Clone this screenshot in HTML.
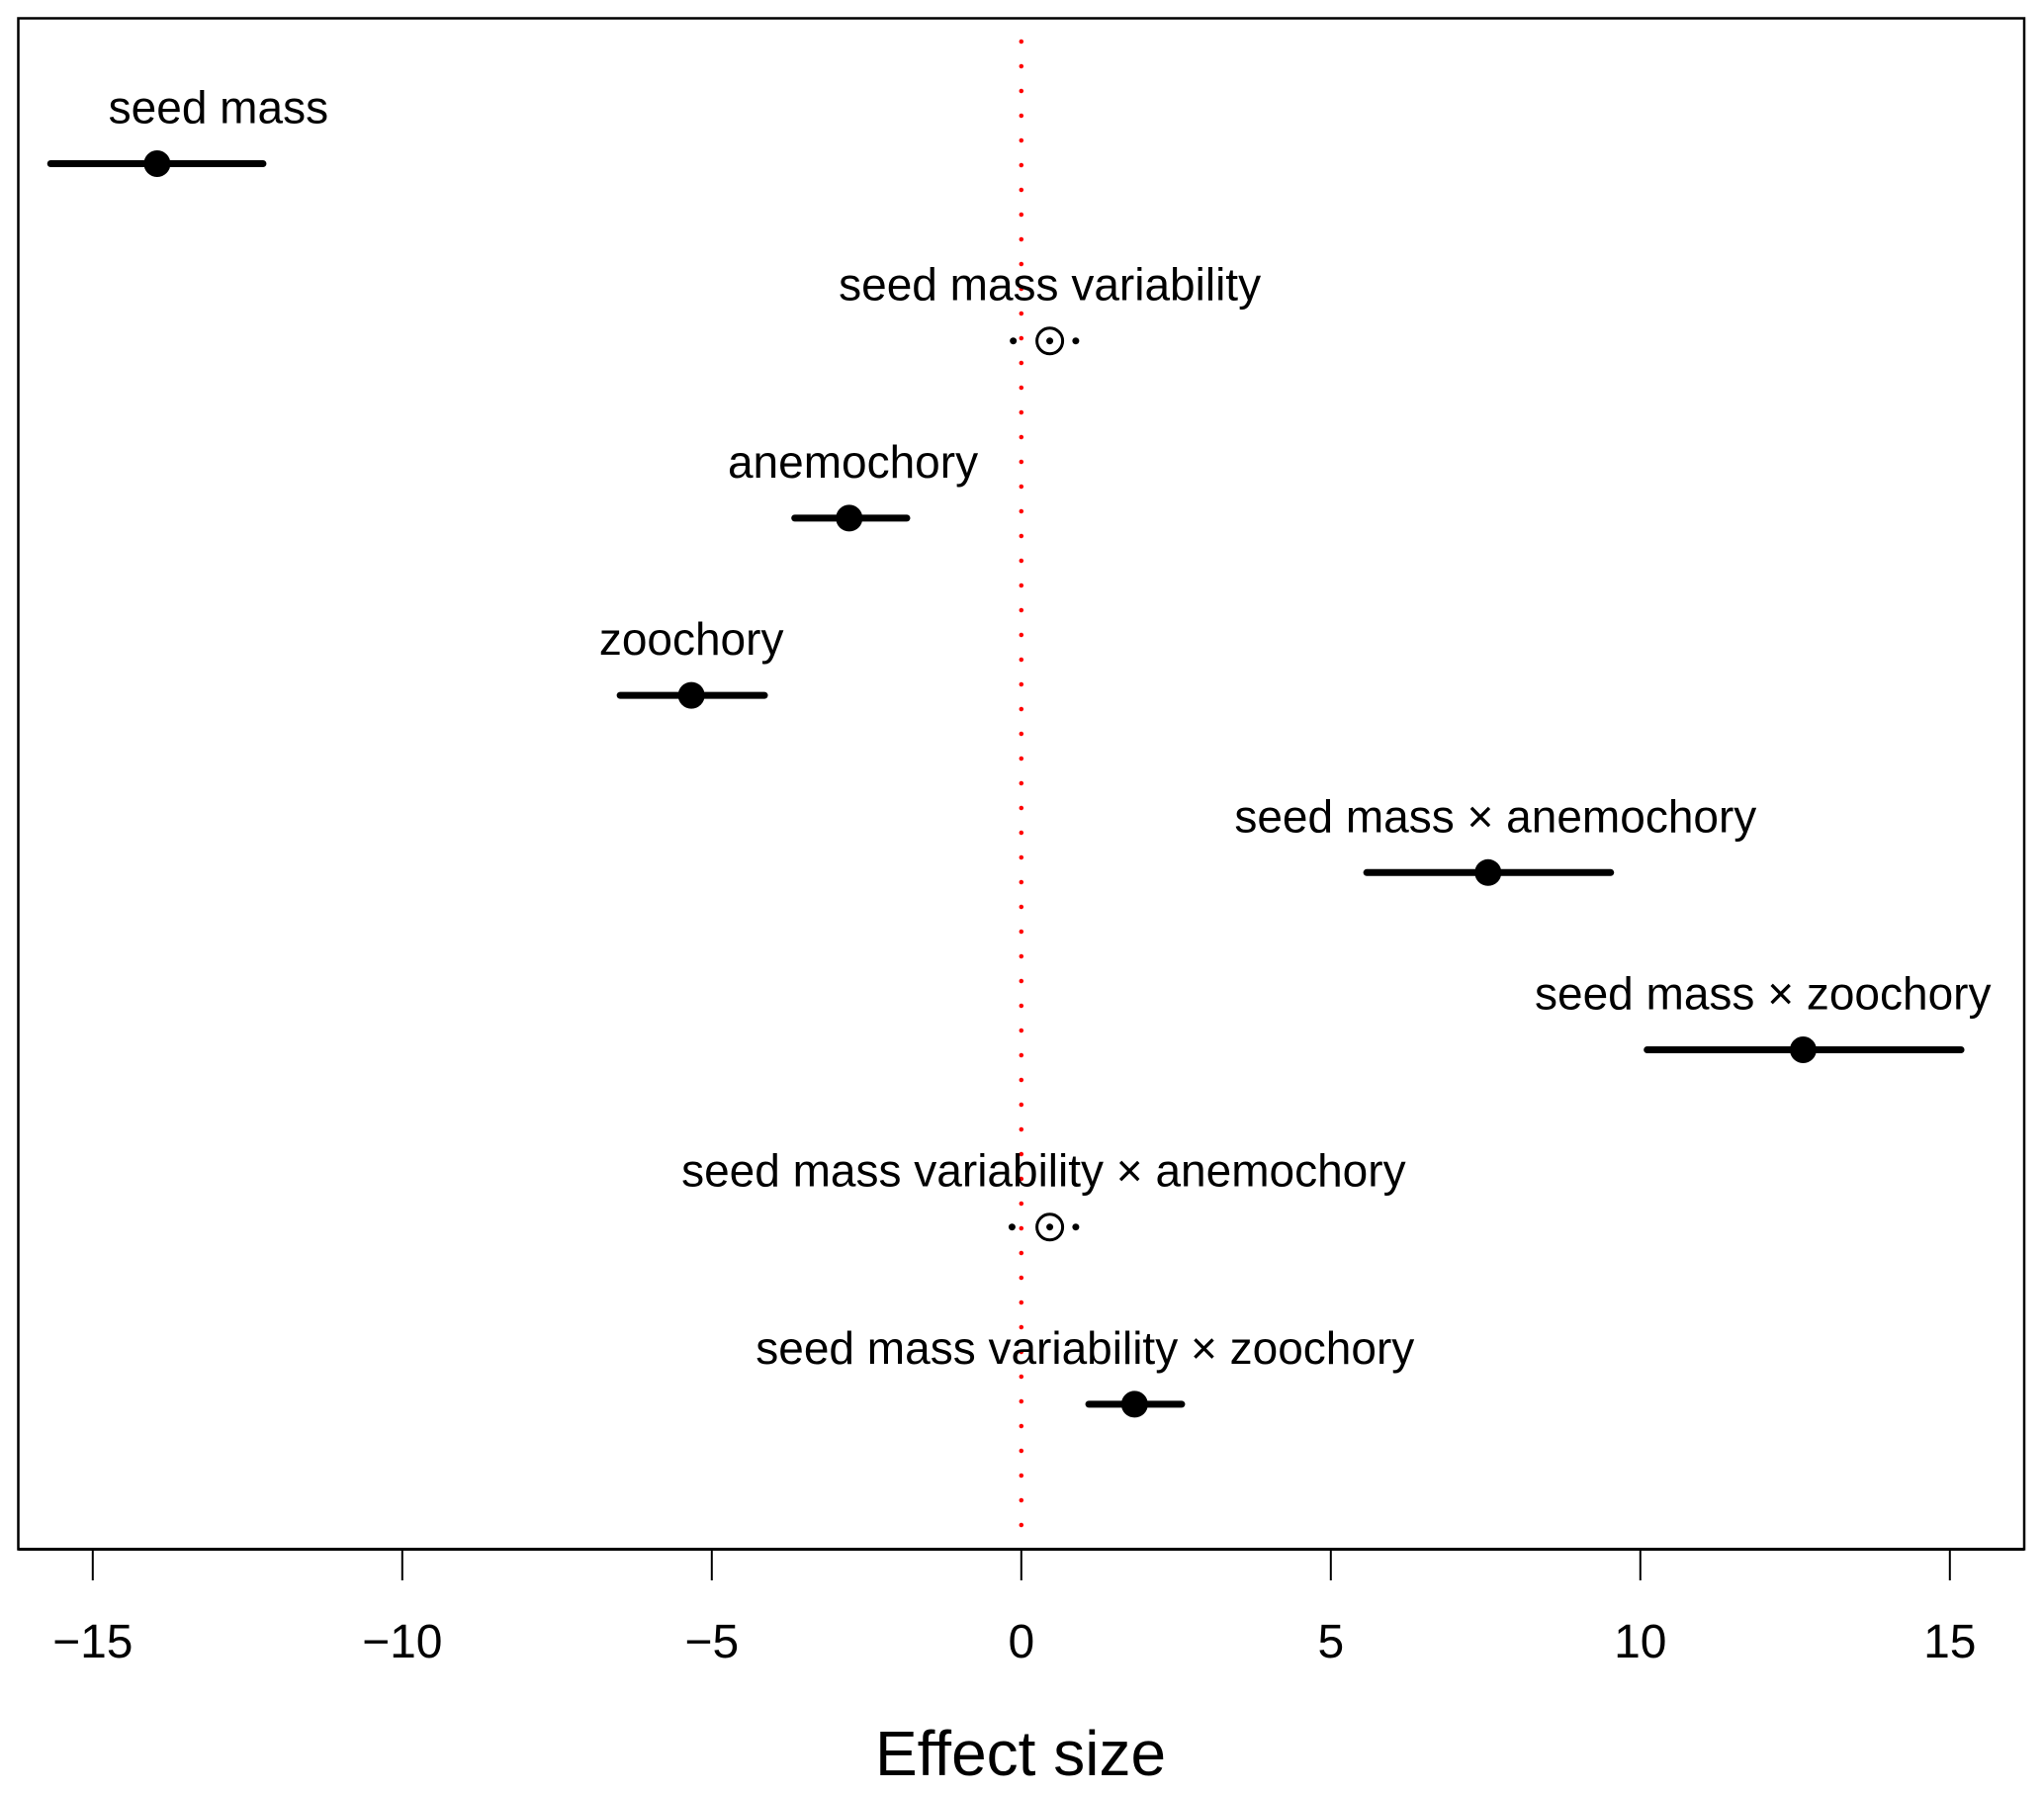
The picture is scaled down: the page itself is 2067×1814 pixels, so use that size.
<!DOCTYPE html>
<html><head><meta charset="utf-8"><style>
html,body{margin:0;padding:0;background:#fff}
svg{display:block}
text{font-family:"Liberation Sans",sans-serif;fill:#000}
</style></head><body>
<svg id="chart" width="2067" height="1814" viewBox="0 0 2067 1814" xmlns="http://www.w3.org/2000/svg">
<rect x="18.5" y="18.5" width="2028.5" height="1548" fill="none" stroke="#000" stroke-width="2.5"/>
<g id="axis"></g>
<line id="zero-line" stroke="#ff0000" stroke-width="4.5" stroke-linecap="round" stroke-dasharray="0 25"/>
<g id="marks"></g>
<text x="1032" y="1795" font-size="64" text-anchor="middle">Effect size</text>
</svg>
<script>
const labels = ["seed mass","seed mass variability","anemochory","zoochory","seed mass × anemochory","seed mass × zoochory","seed mass variability × anemochory","seed mass variability × zoochory"];
const estimates = [-13.96,0.46,-2.78,-5.33,7.54,12.63,0.46,1.83];
const lower = [-15.68,-0.13,-3.66,-6.48,5.58,10.11,-0.15,1.09];
const upper = [-12.25,0.88,-1.85,-4.15,9.52,15.18,0.88,2.59];
const significant = [true,false,true,true,true,true,false,true];
const labelShift = [0.99,0,0.06,0,0.12,-0.65,-0.1,-0.8];
const ticks = [-15,-10,-5,0,5,10,15];
const tickLabels = ["\u221215","\u221210","\u22125","0","5","10","15"];

const NS="http://www.w3.org/2000/svg";
const xs = v => 1032.8 + v*62.6;
const ys = i => 165.5 + i*179.2;
function mk(tag, attrs, parent){const e=document.createElementNS(NS,tag);for(const k in attrs)e.setAttribute(k,attrs[k]);parent.appendChild(e);return e;}
const axis=document.getElementById('axis');
const baseLine=mk('line',{x1:18.5,x2:2047,y1:1566.5,y2:1566.5,stroke:'#000','stroke-width':3},axis);


ticks.forEach((t,i)=>{
  const l=mk('line',{x1:xs(t),x2:xs(t),y1:1566,y2:1598,stroke:'#000','stroke-width':2},axis);
  
  
  const tx=mk('text',{x:xs(t),y:1676,'font-size':48,'text-anchor':'middle'},axis);
  tx.textContent=tickLabels[i];
  
  
});
const z=document.getElementById('zero-line');
z.setAttribute('x1',xs(0));z.setAttribute('x2',xs(0));z.setAttribute('y1',42);z.setAttribute('y2',1566);
const g=document.getElementById('marks');
labels.forEach((lab,i)=>{
  const y=ys(i);
  const grp=mk('g',{},g);
  
  
  if(significant[i]){
    const ci=mk('line',{x1:xs(lower[i]),x2:xs(upper[i]),y1:y,y2:y,stroke:'#000','stroke-width':7,'stroke-linecap':'round'},grp);
    
    
    const p=mk('circle',{cx:xs(estimates[i]),cy:y,r:13.5,fill:'#000'},grp);
    
    
  } else {
    [lower[i],upper[i]].forEach(v=>{
      const d=mk('circle',{cx:xs(v),cy:y,r:3.5,fill:'#000'},grp);
      
      
    });
    const p=mk('circle',{cx:xs(estimates[i]),cy:y,r:13,fill:'none',stroke:'#000','stroke-width':3},grp);
    
    
    const c=mk('circle',{cx:xs(estimates[i]),cy:y,r:3.5,fill:'#000'},grp);
    
    
  }
  const t=mk('text',{x:xs(estimates[i]+labelShift[i]),y:y-41,'font-size':46,'text-anchor':'middle'},grp);
  t.textContent=lab;
  
  
});
</script>
</body></html>
